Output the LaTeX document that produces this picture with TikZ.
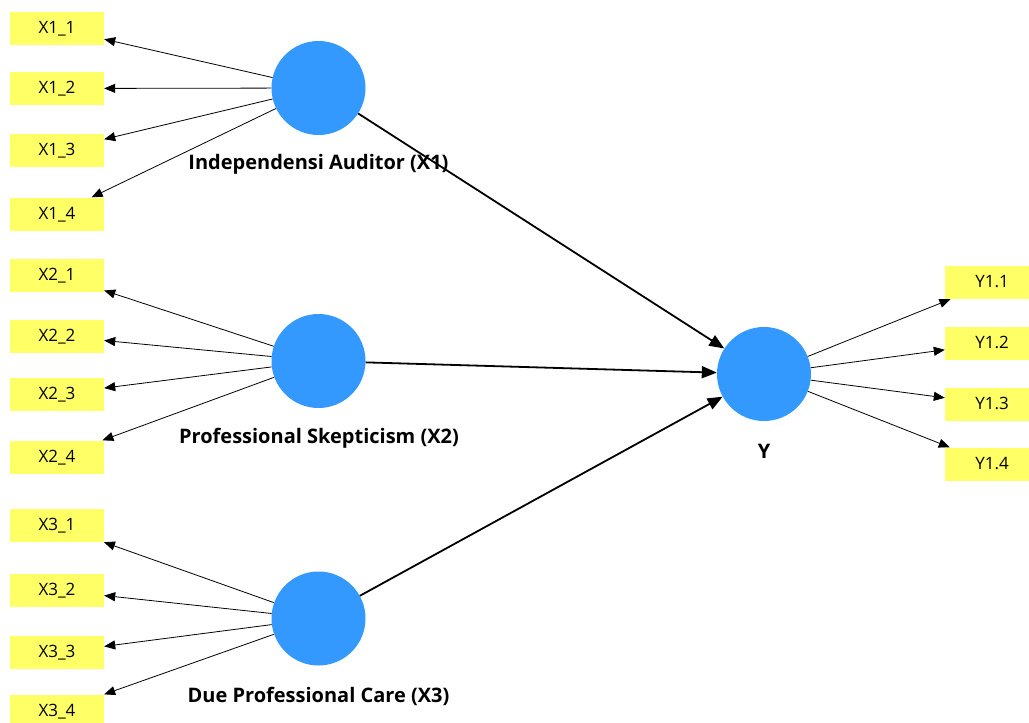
\documentclass[tikz,border=0pt]{standalone}
\usepackage{fontspec}
\setmainfont{Open Sans}
\usetikzlibrary{arrows.meta}
\definecolor{lvblue}{HTML}{3399FF}
\definecolor{indyellow}{HTML}{FFFF66}
\tikzset{
  lv/.style={circle,fill=lvblue,minimum size=94pt,inner sep=0pt},
  ind/.style={fill=indyellow,minimum width=94pt,minimum height=33pt,inner sep=0pt,text depth=0pt,text height=10pt,font=\fontsize{17}{19}\selectfont},
  lvlabel/.style={font=\fontsize{20}{22}\selectfont\bfseries,inner sep=0pt},
  load/.style={line width=0.8pt,-{Triangle[length=11pt,width=9pt]}},
  path/.style={line width=1.8pt,-{Triangle[length=15pt,width=12pt]}}
}
\begin{document}
\begin{tikzpicture}[x=1pt,y=-1pt]
\useasboundingbox[fill=white] (0,0) rectangle (1029,723);
% latent variables
\node[lv] (X1) at (318.5,88) {};
\node[lv] (X2) at (318.5,361) {};
\node[lv] (X3) at (318.5,618.5) {};
\node[lv] (Y) at (764,374) {};
\node[lvlabel] (X1l) at (318.5,164) {Independensi Auditor (X1)};
\node[lvlabel] (X2l) at (319,438) {Professional Skepticism (X2)};
\node[lvlabel] (X3l) at (318.5,696) {Due Professional Care (X3)};
\node[lvlabel] (Yl) at (764,451) {Y};
% indicators
\node[ind] (x11) at (57,28.5) {X1\_1};
\node[ind] (x12) at (57,88.5) {X1\_2};
\node[ind] (x13) at (57,150.5) {X1\_3};
\node[ind] (x14) at (57,214) {X1\_4};
\node[ind] (x21) at (57,275) {X2\_1};
\node[ind] (x22) at (57,336) {X2\_2};
\node[ind] (x23) at (57,394) {X2\_3};
\node[ind] (x24) at (57,457) {X2\_4};
\node[ind] (x31) at (57,525.5) {X3\_1};
\node[ind] (x32) at (57,590.5) {X3\_2};
\node[ind] (x33) at (57,652.5) {X3\_3};
\node[ind] (x34) at (57,711) {X3\_4};
\node[ind] (y1) at (992,282.5) {Y1.1};
\node[ind] (y2) at (992,343.5) {Y1.2};
\node[ind] (y3) at (992,404) {Y1.3};
\node[ind] (y4) at (992,464) {Y1.4};
% loadings
\foreach \a in {1,2,3,4} {
  \draw[load] (X1) -- (x1\a);
  \draw[load] (X2) -- (x2\a);
  \draw[load] (X3) -- (x3\a);
  \draw[load] (Y) -- (y\a);
}
% structural paths
\draw[path] (X1) -- (Y);
\draw[path] (X2) -- (Y);
\draw[path] (X3) -- (Y);
\end{tikzpicture}
\end{document}
